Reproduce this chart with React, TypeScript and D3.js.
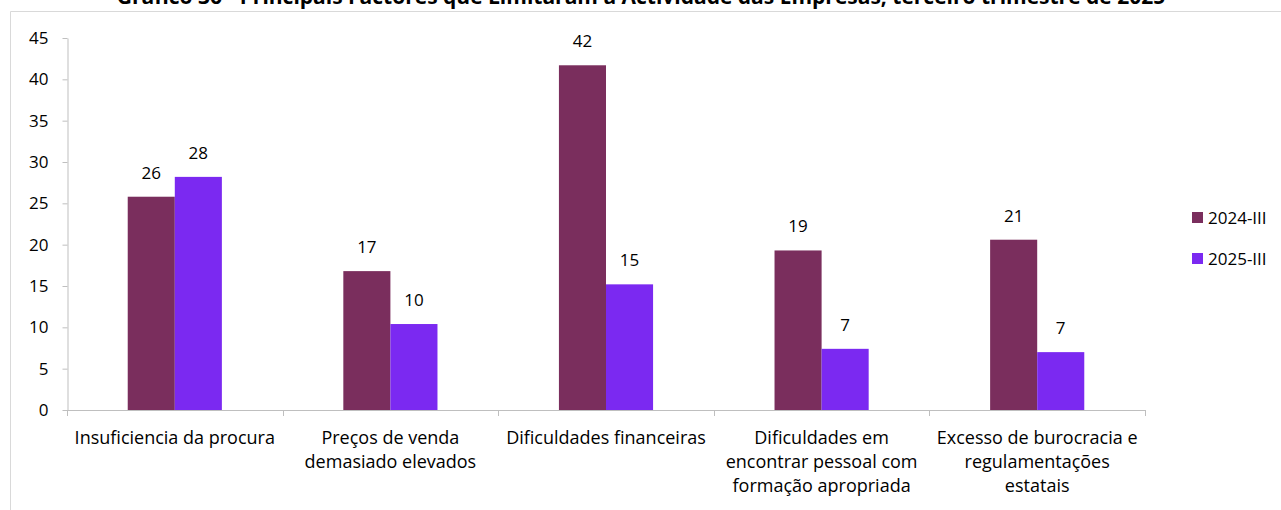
import React, { useEffect, useRef } from "react";
import * as d3 from "d3";

const categories = [
  ["Insuficiencia da procura"],
  ["Preços de venda", "demasiado elevados"],
  ["Dificuldades financeiras"],
  ["Dificuldades em", "encontrar pessoal com", "formação apropriada"],
  ["Excesso de burocracia e", "regulamentações", "estatais"],
];
const seriesNames = ["2024-III", "2025-III"];
const values2024 = [25.8, 16.8, 41.7, 19.3, 20.6];
const values2025 = [28.2, 10.4, 15.2, 7.4, 7.0];
const yTicks = [0, 5, 10, 15, 20, 25, 30, 35, 40, 45];
const title =
  "Gráfico 36 - Principais Factores que Limitaram a Actividade das Empresas, terceiro trimestre de 2025";

const colors = ["#7a2e5d", "#7b29f1"];
const font = "'Open Sans', 'Noto Sans', sans-serif";

const App = () => {
  const ref = useRef<SVGSVGElement>(null);

  useEffect(() => {
    const width = 1281;
    const height = 510;
    const margin = { left: 67, right: 136, top: 38, bottom: 100 };
    const svg = d3.select(ref.current);
    svg.selectAll("*").remove();
    svg.attr("width", width).attr("height", height);

    // frame of the chart area (cut at top)
    svg
      .append("path")
      .attr("d", `M10.5,${height} V11.5 H${width}`)
      .attr("fill", "none")
      .attr("stroke", "#d9d9d9");

    // title, partly cut off at the top edge as in the source
    svg
      .append("text")
      .attr("x", 641)
      .attr("y", 4)
      .attr("text-anchor", "middle")
      .attr("font-family", font)
      .attr("font-weight", "bold")
      .attr("font-size", 21)
      .text(title);

    const idx = categories.map((_, i) => i);
    const x = d3
      .scaleBand<number>()
      .domain(idx)
      .range([margin.left, width - margin.right])
      .paddingInner(0)
      .paddingOuter(0);

    const xSub = d3
      .scaleBand<number>()
      .domain([0, 1])
      .range([0, x.bandwidth()])
      .paddingOuter(1.29)
      .paddingInner(0);

    const y = d3
      .scaleLinear()
      .domain([0, 45])
      .range([height - margin.bottom, margin.top]);

    // y axis
    const yAxis = svg
      .append("g")
      .attr("transform", `translate(${margin.left + 0.5},0)`)
      .call(
        d3
          .axisLeft(y)
          .tickValues(yTicks)
          .tickSize(5)
          .tickPadding(14)
          .tickSizeOuter(0)
      );
    yAxis.select(".domain").attr("stroke", "#bfbfbf");
    yAxis.selectAll(".tick line").attr("stroke", "#bfbfbf");
    yAxis
      .selectAll(".tick text")
      .attr("font-family", font)
      .attr("font-size", 17)
      .attr("fill", "#000");

    const series = [values2024, values2025];

    // bars
    series.forEach((vals, s) => {
      svg
        .append("g")
        .selectAll("rect")
        .data(vals)
        .join("rect")
        .attr("x", (_, i) => (x(i) as number) + (xSub(s) as number))
        .attr("width", xSub.bandwidth())
        .attr("y", (d) => y(d))
        .attr("height", (d) => y(0) - y(d))
        .attr("fill", colors[s]);

      svg
        .append("g")
        .selectAll("text")
        .data(vals)
        .join("text")
        .attr("x", (_, i) => (x(i) as number) + (xSub(s) as number) + xSub.bandwidth() / 2)
        .attr("y", (d) => y(d) - 18)
        .attr("text-anchor", "middle")
        .attr("font-family", font)
        .attr("font-size", 17)
        .attr("fill", "#000")
        .text((d) => d3.format(".0f")(d));
    });

    // x axis
    const xAxis = svg.append("g");
    xAxis
      .append("line")
      .attr("x1", margin.left)
      .attr("x2", width - margin.right)
      .attr("y1", y(0) + 0.5)
      .attr("y2", y(0) + 0.5)
      .attr("stroke", "#bfbfbf");
    xAxis
      .selectAll("line.tick")
      .data([...idx, idx.length])
      .join("line")
      .attr("class", "tick")
      .attr("x1", (i) => Math.round(margin.left + i * x.step()) + 0.5)
      .attr("x2", (i) => Math.round(margin.left + i * x.step()) + 0.5)
      .attr("y1", y(0))
      .attr("y2", y(0) + 6)
      .attr("stroke", "#bfbfbf");

    const labels = xAxis
      .selectAll("text.cat")
      .data(categories)
      .join("text")
      .attr("class", "cat")
      .attr("text-anchor", "middle")
      .attr("font-family", font)
      .attr("font-size", 18)
      .attr("fill", "#000");
    labels
      .selectAll("tspan")
      .data((d, i) => d.map((line) => ({ line, i })))
      .join("tspan")
      .attr("x", (d) => (x(d.i) as number) + x.bandwidth() / 2)
      .attr("y", (_, j) => 444 + j * 24)
      .text((d) => d.line);

    // legend
    const legend = svg
      .append("g")
      .selectAll("g")
      .data(seriesNames)
      .join("g")
      .attr("transform", (_, i) => `translate(1192,${212 + i * 41})`);
    legend
      .append("rect")
      .attr("width", 11)
      .attr("height", 11)
      .attr("fill", (_, i) => colors[i]);
    legend
      .append("text")
      .attr("x", 16)
      .attr("y", 12)
      .attr("font-family", font)
      .attr("font-size", 17)
      .attr("fill", "#000")
      .text((d) => d);
  }, []);

  return (
    <svg
      ref={ref}
      style={{ position: "absolute", left: 0, top: 0, display: "block", background: "#fff" }}
    />
  );
};

export default App;
